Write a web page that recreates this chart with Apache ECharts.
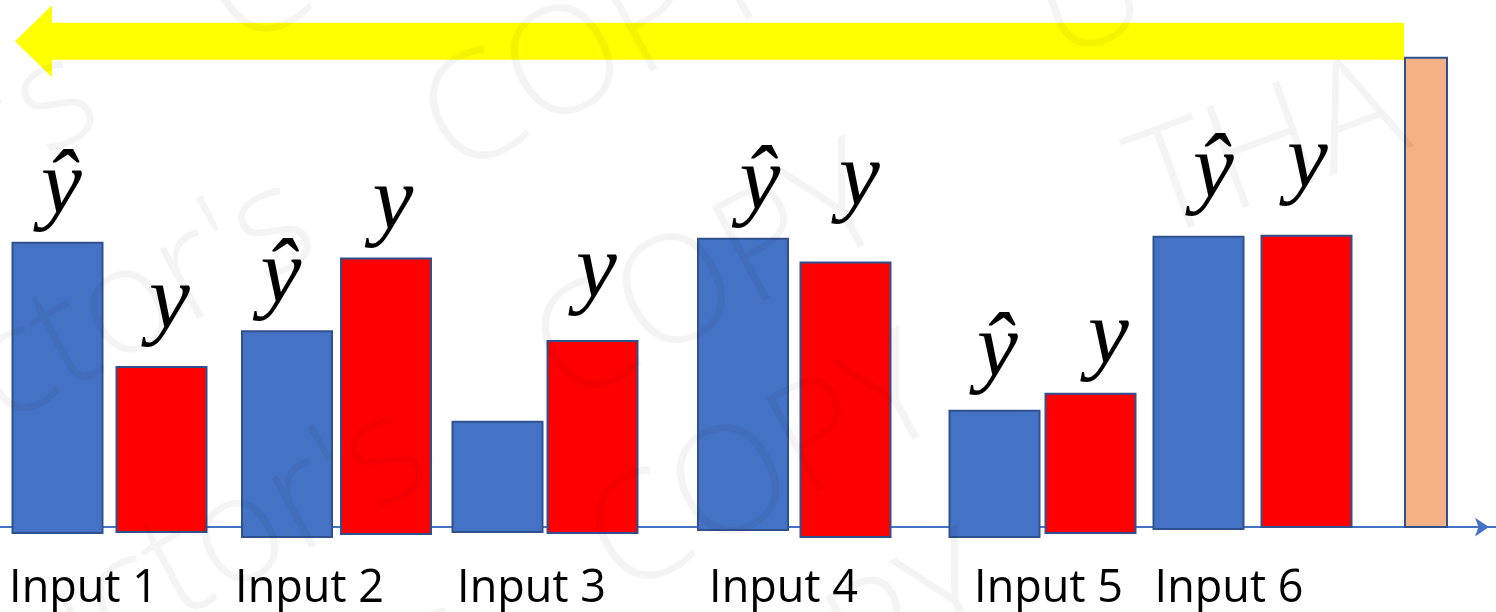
<!DOCTYPE html>
<html>
<head>
<meta charset="utf-8">
<script src="https://cdn.jsdelivr.net/npm/echarts@6/dist/echarts.min.js"></script>
<style>
  html, body { margin: 0; padding: 0; background: #ffffff; }
  #chart { width: 1496px; height: 612px; }
</style>
</head>
<body>
<div id="chart"></div>
<script>
// Inputs along the horizontal axis
const categories = ['Input 1', 'Input 2', 'Input 3', 'Input 4', 'Input 5', 'Input 6'];

// Predicted outputs (ŷ) and targets (y): height of each bar's top above the axis line
const predicted = [28.6, 19.7, 10.6, 29.0, 11.7, 29.2];
const target    = [16.1, 27.0, 18.7, 26.6, 13.4, 29.3];

// Bottom edge of each bar (a few sit slightly under the axis line)
const predictedBase = [-0.6, -1.0, -0.5, -0.3, -1.0, -0.2];
const targetBase    = [-0.5, -0.7, -0.6, -1.0, -0.6, 0];

// Loss bar on the far right
const loss = 47.2;

// Symbols written over the bars
const predictedLabels = ['ŷ', 'ŷ', '', 'ŷ', 'ŷ', 'ŷ'];
const targetLabels    = ['y', 'y', 'y', 'y', 'y', 'y'];

// Placement along the x axis (axis units)
const predictedX = [5.75, 28.7, 49.75, 74.3, 99.45, 119.85];
const targetX    = [16.15, 38.6, 59.25, 84.55, 109.05, 130.65];
const tickX      = [8.35, 30.95, 53.15, 78.35, 104.85, 122.9];
const lossX      = 142.6;
const arrowTipX  = 1.5;
const arrowLevel = 48.85;

// Symbol offsets above each bar, in pixels: [lift, shift right]
const predictedLabelPos = [[8, 4], [7, -6], [0, 0], [8, 17], [13, 3], [18, 15]];
const targetLabelPos    = [[17, 8], [8, 7], [22, 4], [36, 14], [9, 18], [27, 1]];

const BAR_W = 90;
const LOSS_W = 42;
const BORDER = '#2F528F';
const SYMBOL_FONT = 'italic 92px "Liberation Serif", "DejaVu Serif", serif';

function barSeries(name, xs, bases, tops, labels, labelPos, color) {
  return {
    type: 'custom',
    name: name,
    z: 3,
    data: xs.map((x, i) => [x, bases[i], tops[i]]),
    encode: { x: 0, y: [1, 2] },
    renderItem(params, api) {
      const i = params.dataIndex;
      const x = api.value(0);
      const pBottom = api.coord([x, api.value(1)]);
      const pTop = api.coord([x, api.value(2)]);
      const children = [{
        type: 'rect',
        shape: { x: pTop[0] - BAR_W / 2, y: pTop[1], width: BAR_W, height: pBottom[1] - pTop[1] },
        style: { fill: color, stroke: BORDER, lineWidth: 2 }
      }];
      if (labels[i]) {
        children.push({
          type: 'text',
          x: pTop[0] + labelPos[i][1],
          y: pTop[1] - labelPos[i][0],
          style: {
            text: labels[i], font: SYMBOL_FONT, fill: '#000000',
            align: 'center', verticalAlign: 'bottom'
          }
        });
      }
      return { type: 'group', children: children };
    }
  };
}

// Faint diagonal watermark lines
const WM_ANGLE = 0.5;
const WM_FONT = '300 150px "Open Sans", sans-serif';
const WM_FILL = 'rgba(0,0,0,0.045)';
const wmAnchors = [[218, 14], [435, 141], [547, 370], [601, 561], [660, 760]];
const watermark = [];
wmAnchors.forEach(([ax, ay]) => {
  const dx = Math.cos(WM_ANGLE), dy = -Math.sin(WM_ANGLE);
  watermark.push({
    type: 'text', x: ax, y: ay, rotation: WM_ANGLE, z: 100, silent: true,
    style: { text: 'COPY', font: WM_FONT, fill: WM_FILL, align: 'left', verticalAlign: 'middle' }
  });
  watermark.push({
    type: 'text', x: ax - 150 * dx, y: ay - 150 * dy, rotation: WM_ANGLE, z: 100, silent: true,
    style: { text: "Instructor's", font: WM_FONT, fill: WM_FILL, align: 'right', verticalAlign: 'middle' }
  });
});
watermark.push({
  type: 'text', x: 1140, y: 200, rotation: 0.35, z: 100, silent: true,
  style: { text: 'THA', font: WM_FONT, fill: WM_FILL, align: 'left', verticalAlign: 'middle' }
});
watermark.push({
  type: 'text', x: 1040, y: 20, rotation: 0.35, z: 100, silent: true,
  style: { text: 'U', font: WM_FONT, fill: WM_FILL, align: 'left', verticalAlign: 'middle' }
});

const chart = echarts.init(document.getElementById('chart'), null, { renderer: 'canvas' });

chart.setOption({
  animation: false,
  backgroundColor: '#ffffff',
  grid: { left: 0, right: 0, top: 0, bottom: 72 },
  xAxis: {
    type: 'value', min: 0, max: 149.6,
    splitLine: { show: false },
    axisTick: { show: false },
    axisLine: {
      show: true, onZero: true,
      lineStyle: { color: '#4472C4', width: 2 },
      symbol: ['none', 'arrow'], symbolSize: [14, 14], symbolOffset: [0, -7]
    },
    axisLabel: {
      customValues: tickX,
      formatter: v => categories[tickX.indexOf(v)] || '',
      color: '#000000',
      fontFamily: '"Open Sans", sans-serif',
      fontSize: 45,
      margin: 30
    }
  },
  yAxis: {
    type: 'value', min: -1, max: 53, show: false,
    splitLine: { show: false }
  },
  graphic: { elements: watermark },
  series: [
    // Backward arrow running from the loss to the first input
    {
      type: 'custom',
      name: 'arrow',
      z: 2,
      data: [[arrowTipX, lossX, arrowLevel]],
      renderItem(params, api) {
        const tip = api.coord([api.value(0), api.value(2)]);
        const tail = api.coord([api.value(1), api.value(2)]);
        const tailX = tail[0] - LOSS_W / 2 - 1;
        const headLen = 37, headHalf = 36, shaftHalf = 18.5;
        const cy = tip[1];
        return {
          type: 'polygon',
          shape: {
            points: [
              [tip[0], cy],
              [tip[0] + headLen, cy - headHalf],
              [tip[0] + headLen, cy - shaftHalf],
              [tailX, cy - shaftHalf],
              [tailX, cy + shaftHalf],
              [tip[0] + headLen, cy + shaftHalf],
              [tip[0] + headLen, cy + headHalf]
            ]
          },
          style: { fill: '#FFFF00' }
        };
      }
    },
    barSeries('ŷ', predictedX, predictedBase, predicted, predictedLabels, predictedLabelPos, '#4472C4'),
    barSeries('y', targetX, targetBase, target, targetLabels, targetLabelPos, '#FF0000'),
    {
      type: 'custom',
      name: 'loss',
      z: 3,
      data: [[lossX, 0, loss]],
      encode: { x: 0, y: [1, 2] },
      renderItem(params, api) {
        const x = api.value(0);
        const pBottom = api.coord([x, api.value(1)]);
        const pTop = api.coord([x, api.value(2)]);
        return {
          type: 'rect',
          shape: { x: pTop[0] - LOSS_W / 2, y: pTop[1], width: LOSS_W, height: pBottom[1] - pTop[1] },
          style: { fill: '#F4B183', stroke: BORDER, lineWidth: 2 }
        };
      }
    }
  ]
});
</script>
</body>
</html>
